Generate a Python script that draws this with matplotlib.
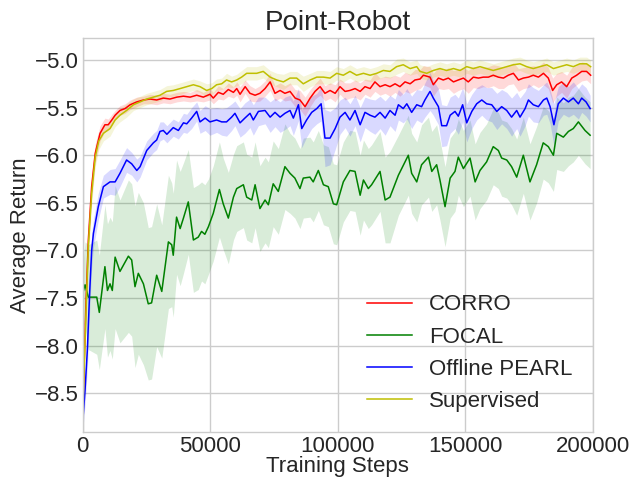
import numpy as np
import matplotlib
matplotlib.use('Agg')
from matplotlib import pyplot as plt

# CORRO
corro_steps = [0, 1200, 2200, 3500, 4900, 6800, 8700, 10000, 11400, 12700,
               14600, 16600, 18600, 21200, 23800, 26400, 29000, 31600, 34200, 36900,
               39500, 42100, 44700, 47300, 49900, 51200, 53200, 55100, 57100, 59100,
               60400, 61700, 63700, 65600, 67600, 69500, 71500, 73500, 75400, 77400,
               79300, 81300, 83300, 85200, 87200, 89200, 91100, 93100, 95000, 97000,
               99000, 100900, 102900, 104800, 106800, 108800, 110700, 112700, 114600, 116600,
               118600, 120500, 122500, 124400, 126400, 128400, 130300, 132300, 133600, 136200,
               137500, 139500, 141400, 143400, 145400, 147300, 149300, 151200, 153200, 155200,
               157100, 159100, 161000, 163000, 165000, 166900, 168900, 170900, 172800, 174800,
               176700, 178700, 180700, 182600, 184300, 185900, 187800, 189800, 191800, 193700,
               195700, 197600, 199200]
corro_mean = [-8.70, -7.60, -6.89, -6.33, -5.98, -5.77, -5.68, -5.68, -5.63, -5.58,
              -5.53, -5.51, -5.47, -5.44, -5.42, -5.41, -5.42, -5.40, -5.41, -5.39,
              -5.38, -5.39, -5.37, -5.39, -5.36, -5.40, -5.34, -5.36, -5.31, -5.34,
              -5.30, -5.36, -5.28, -5.35, -5.37, -5.35, -5.30, -5.23, -5.35, -5.32,
              -5.35, -5.33, -5.40, -5.42, -5.49, -5.40, -5.33, -5.28, -5.35, -5.32,
              -5.35, -5.28, -5.33, -5.32, -5.30, -5.33, -5.28, -5.30, -5.23, -5.28,
              -5.26, -5.28, -5.25, -5.28, -5.23, -5.25, -5.21, -5.20, -5.16, -5.18,
              -5.26, -5.19, -5.21, -5.19, -5.23, -5.21, -5.19, -5.23, -5.18, -5.19,
              -5.18, -5.18, -5.16, -5.18, -5.19, -5.16, -5.14, -5.21, -5.19, -5.18,
              -5.16, -5.18, -5.14, -5.19, -5.32, -5.26, -5.23, -5.28, -5.19, -5.16,
              -5.12, -5.12, -5.16]
corro_std = [0.10, 0.20, 0.15, 0.12, 0.10, 0.08, 0.07, 0.06, 0.06, 0.05,
             0.05, 0.05, 0.05, 0.05, 0.04, 0.05, 0.05, 0.05, 0.05, 0.05,
             0.05, 0.05, 0.06, 0.05, 0.06, 0.06, 0.07, 0.06, 0.07, 0.06,
             0.07, 0.08, 0.07, 0.08, 0.07, 0.08, 0.08, 0.09, 0.08, 0.08,
             0.08, 0.09, 0.09, 0.10, 0.10, 0.09, 0.08, 0.09, 0.08, 0.08,
             0.09, 0.08, 0.09, 0.08, 0.09, 0.09, 0.08, 0.09, 0.10, 0.09,
             0.09, 0.10, 0.09, 0.10, 0.10, 0.10, 0.11, 0.10, 0.10, 0.11,
             0.12, 0.11, 0.10, 0.11, 0.12, 0.11, 0.11, 0.12, 0.11, 0.11,
             0.10, 0.11, 0.11, 0.12, 0.11, 0.10, 0.11, 0.12, 0.11, 0.11,
             0.10, 0.11, 0.12, 0.11, 0.13, 0.12, 0.11, 0.12, 0.11, 0.10,
             0.10, 0.09, 0.09]

# FOCAL
focal_steps = [0, 900, 2200, 5500, 6500, 8700, 9700, 10700, 11600, 12700,
               14600, 17900, 19200, 20500, 21800, 23800, 25700, 27000, 29000, 31000,
               33600, 34900, 35500, 36800, 38200, 39500, 41400, 43400, 45300, 46600,
               47900, 49300, 51200, 53600, 55100, 57100, 59100, 60400, 63000, 64300,
               66300, 67600, 69500, 71500, 72800, 74700, 76700, 79300, 81300, 83200,
               85200, 86500, 89100, 90400, 92400, 94400, 96300, 98300, 99600, 102200,
               104800, 106800, 108800, 110100, 112000, 113300, 116600, 118600, 120500, 123800,
               127700, 129000, 131000, 132900, 135600, 136900, 138800, 140100, 142100, 144100,
               146000, 147300, 149300, 151900, 153900, 155800, 158400, 161000, 163000, 164300,
               166300, 168200, 170200, 172800, 175400, 178000, 180600, 182600, 184600, 185900,
               188500, 190500, 192400, 194400, 197000, 199000]
focal_mean = [-7.45, -7.36, -7.49, -7.49, -7.65, -7.17, -7.42, -7.35, -7.42, -7.07,
              -7.22, -7.06, -7.10, -7.38, -7.24, -7.35, -7.56, -7.55, -7.26, -7.43,
              -6.91, -6.94, -7.05, -6.65, -6.77, -6.66, -6.49, -6.89, -6.86, -6.80,
              -6.83, -6.75, -6.61, -6.36, -6.51, -6.66, -6.44, -6.35, -6.31, -6.44,
              -6.47, -6.31, -6.56, -6.47, -6.52, -6.30, -6.38, -6.12, -6.19, -6.24,
              -6.35, -6.24, -6.23, -6.28, -6.16, -6.31, -6.33, -6.51, -6.52, -6.28,
              -6.16, -6.17, -6.42, -6.26, -6.35, -6.31, -6.17, -6.47, -6.44, -6.21,
              -6.00, -6.19, -6.28, -6.10, -6.02, -6.17, -6.10, -6.26, -6.54, -6.24,
              -6.17, -6.02, -6.14, -6.03, -6.28, -6.16, -6.07, -5.91, -5.95, -6.03,
              -6.05, -6.12, -6.23, -6.00, -6.28, -6.10, -5.87, -5.91, -6.00, -5.77,
              -5.81, -5.75, -5.72, -5.65, -5.74, -5.79]
focal_std = [0.30, 0.45, 0.55, 0.60, 0.60, 0.65, 0.70, 0.70, 0.72, 0.75,
             0.75, 0.80, 0.80, 0.85, 0.85, 0.85, 0.80, 0.80, 0.75, 0.70,
             0.70, 0.65, 0.65, 0.60, 0.60, 0.58, 0.55, 0.55, 0.55, 0.52,
             0.52, 0.50, 0.50, 0.50, 0.48, 0.48, 0.45, 0.45, 0.45, 0.45,
             0.45, 0.45, 0.45, 0.45, 0.45, 0.45, 0.45, 0.45, 0.42, 0.42,
             0.42, 0.42, 0.42, 0.42, 0.42, 0.42, 0.42, 0.42, 0.42, 0.42,
             0.42, 0.42, 0.42, 0.42, 0.42, 0.42, 0.42, 0.45, 0.48, 0.42,
             0.42, 0.42, 0.42, 0.42, 0.42, 0.42, 0.42, 0.42, 0.42, 0.42,
             0.42, 0.40, 0.40, 0.40, 0.40, 0.40, 0.40, 0.40, 0.40, 0.40,
             0.40, 0.40, 0.40, 0.40, 0.40, 0.40, 0.38, 0.38, 0.38, 0.38,
             0.36, 0.36, 0.35, 0.35, 0.35, 0.35]

# Offline PEARL
pearl_steps = [0, 900, 1800, 2700, 3500, 4200, 6100, 8100, 10700, 12700,
               14600, 17200, 19200, 21200, 22500, 25100, 27700, 29000, 30300, 31600,
               33000, 35500, 37500, 39500, 40800, 42700, 44700, 46000, 48000, 49900,
               52500, 54500, 56400, 58400, 59700, 61700, 63600, 65600, 66900, 68900,
               71500, 73500, 75400, 77400, 79300, 81300, 82600, 84600, 85900, 87800,
               89800, 91800, 93500, 95000, 97000, 99000, 100900, 102900, 104800, 106800,
               108800, 110700, 112700, 114600, 116600, 118600, 120500, 122500, 123800, 125700,
               127100, 129000, 131000, 132900, 134200, 136200, 137500, 139500, 140800, 142700,
               144100, 146000, 147300, 149000, 150600, 152600, 154500, 156500, 158400, 160400,
               162400, 164300, 166300, 168200, 170200, 171500, 173500, 174800, 176700, 178700,
               180700, 182000, 183300, 184800, 186500, 188500, 190500, 192400, 194400, 195700,
               197400, 199000]
pearl_mean = [-8.80, -8.47, -8.05, -7.45, -7.00, -6.82, -6.54, -6.33, -6.28, -6.28,
              -6.19, -6.05, -6.09, -6.16, -6.12, -5.95, -5.87, -5.84, -5.75, -5.74,
              -5.78, -5.71, -5.74, -5.66, -5.67, -5.61, -5.54, -5.65, -5.61, -5.65,
              -5.63, -5.65, -5.65, -5.60, -5.56, -5.66, -5.61, -5.56, -5.63, -5.54,
              -5.53, -5.60, -5.55, -5.60, -5.56, -5.53, -5.61, -5.47, -5.72, -5.63,
              -5.55, -5.51, -5.46, -5.82, -5.82, -5.72, -5.60, -5.55, -5.63, -5.53,
              -5.68, -5.55, -5.58, -5.60, -5.55, -5.61, -5.53, -5.58, -5.47, -5.51,
              -5.46, -5.55, -5.47, -5.49, -5.42, -5.33, -5.40, -5.49, -5.69, -5.69,
              -5.58, -5.54, -5.59, -5.47, -5.66, -5.54, -5.46, -5.42, -5.46, -5.47,
              -5.54, -5.49, -5.53, -5.60, -5.53, -5.60, -5.51, -5.42, -5.47, -5.49,
              -5.42, -5.40, -5.49, -5.68, -5.46, -5.40, -5.44, -5.40, -5.46, -5.40,
              -5.44, -5.51]
pearl_std = [0.10, 0.15, 0.20, 0.20, 0.18, 0.15, 0.14, 0.12, 0.13, 0.14,
             0.14, 0.13, 0.12, 0.12, 0.11, 0.10, 0.10, 0.10, 0.10, 0.09,
             0.09, 0.09, 0.09, 0.10, 0.10, 0.11, 0.10, 0.12, 0.13, 0.14,
             0.13, 0.14, 0.15, 0.14, 0.13, 0.15, 0.16, 0.15, 0.16, 0.15,
             0.14, 0.16, 0.15, 0.16, 0.17, 0.16, 0.18, 0.17, 0.20, 0.18,
             0.17, 0.16, 0.18, 0.30, 0.28, 0.22, 0.18, 0.16, 0.17, 0.16,
             0.18, 0.16, 0.17, 0.18, 0.17, 0.18, 0.16, 0.17, 0.16, 0.15,
             0.16, 0.17, 0.16, 0.17, 0.18, 0.20, 0.18, 0.19, 0.22, 0.21,
             0.19, 0.18, 0.19, 0.18, 0.20, 0.18, 0.17, 0.16, 0.17, 0.18,
             0.19, 0.18, 0.19, 0.20, 0.19, 0.20, 0.18, 0.17, 0.18, 0.17,
             0.16, 0.17, 0.18, 0.22, 0.18, 0.17, 0.16, 0.17, 0.16, 0.15,
             0.15, 0.14]

# Supervised
sup_steps = [0, 1200, 2200, 3500, 4900, 6300, 8100, 10700, 12700, 14600,
             17200, 19900, 22500, 25100, 27700, 30300, 32900, 35500, 38200, 40800,
             43400, 46000, 48600, 50600, 52500, 54500, 56400, 58400, 60400, 62300,
             64300, 68200, 70800, 73500, 76100, 78700, 81300, 83900, 86500, 89200,
             91800, 94400, 97000, 99600, 102200, 104800, 107400, 110100, 112700, 115300,
             117900, 120500, 123100, 125700, 128400, 131000, 132300, 134900, 137500, 140100,
             142700, 145400, 148000, 150600, 153200, 155800, 158400, 161000, 163700, 166300,
             168900, 171500, 174100, 176700, 179300, 182000, 184600, 187200, 189800, 192400,
             195000, 197600, 199200]
sup_mean = [-8.72, -7.70, -6.95, -6.40, -6.02, -5.85, -5.77, -5.72, -5.63, -5.58,
            -5.53, -5.47, -5.44, -5.41, -5.39, -5.37, -5.33, -5.32, -5.30, -5.28,
            -5.26, -5.28, -5.32, -5.30, -5.26, -5.25, -5.21, -5.23, -5.21, -5.18,
            -5.14, -5.14, -5.12, -5.18, -5.21, -5.23, -5.19, -5.19, -5.25, -5.21,
            -5.18, -5.18, -5.19, -5.14, -5.16, -5.12, -5.16, -5.14, -5.16, -5.14,
            -5.11, -5.12, -5.07, -5.05, -5.09, -5.07, -5.12, -5.14, -5.11, -5.09,
            -5.11, -5.09, -5.11, -5.07, -5.09, -5.07, -5.09, -5.11, -5.09, -5.07,
            -5.05, -5.04, -5.07, -5.09, -5.07, -5.05, -5.09, -5.07, -5.05, -5.07,
            -5.04, -5.04, -5.07]
sup_std = [0.10, 0.20, 0.15, 0.12, 0.10, 0.09, 0.08, 0.08, 0.07, 0.07,
           0.07, 0.06, 0.06, 0.06, 0.06, 0.06, 0.06, 0.06, 0.06, 0.06,
           0.06, 0.06, 0.07, 0.06, 0.06, 0.06, 0.07, 0.06, 0.06, 0.07,
           0.07, 0.07, 0.07, 0.07, 0.07, 0.08, 0.07, 0.07, 0.08, 0.07,
           0.07, 0.07, 0.07, 0.07, 0.07, 0.07, 0.07, 0.07, 0.07, 0.07,
           0.07, 0.07, 0.08, 0.07, 0.07, 0.07, 0.07, 0.07, 0.07, 0.07,
           0.07, 0.07, 0.07, 0.07, 0.07, 0.07, 0.07, 0.07, 0.07, 0.07,
           0.07, 0.07, 0.07, 0.07, 0.07, 0.07, 0.07, 0.07, 0.07, 0.07,
           0.07, 0.07, 0.07]

series = [
    ('CORRO', corro_steps, corro_mean, corro_std, 'r'),
    ('FOCAL', focal_steps, focal_mean, focal_std, 'g'),
    ('Offline PEARL', pearl_steps, pearl_mean, pearl_std, 'b'),
    ('Supervised', sup_steps, sup_mean, sup_std, 'y'),
]

plt.rcParams['font.family'] = ['Liberation Sans', 'DejaVu Sans']
plt.rcParams['text.color'] = '0.15'
plt.rcParams['axes.labelcolor'] = '0.15'
plt.rcParams['xtick.color'] = '0.15'
plt.rcParams['ytick.color'] = '0.15'

fig = plt.figure(figsize=(6.33, 4.79), dpi=100)
ax = fig.add_axes([0.1307, 0.0987, 0.8056, 0.822])

for name, x, m, s, c in series:
    x = np.array(x)
    m = np.array(m)
    s = np.array(s)
    ax.fill_between(x, m - s, m + s, color=c, alpha=0.15, linewidth=0)
for name, x, m, s, c in series:
    ax.plot(x, m, color=c, linewidth=1.1, label=name)

ax.set_xlim(0, 200000)
ax.set_ylim(-8.903, -4.769)
ax.set_xticks([0, 50000, 100000, 150000, 200000])
ax.set_yticks([-8.5, -8.0, -7.5, -7.0, -6.5, -6.0, -5.5, -5.0])
ax.tick_params(length=0, labelsize=16, pad=3)
ax.grid(True, color='0.8', linewidth=1.0)
ax.set_axisbelow(True)
for sp in ax.spines.values():
    sp.set_color('0.8')
    sp.set_linewidth(1.0)

ax.set_xlabel('Training Steps', fontsize=16, labelpad=-1)
ax.set_ylabel('Average Return', fontsize=16, labelpad=3)
ax.set_title('Point-Robot', fontsize=20, pad=6)
ax.legend(loc='lower right', fontsize=16, frameon=False)

fig.savefig('out.png', dpi=100)
